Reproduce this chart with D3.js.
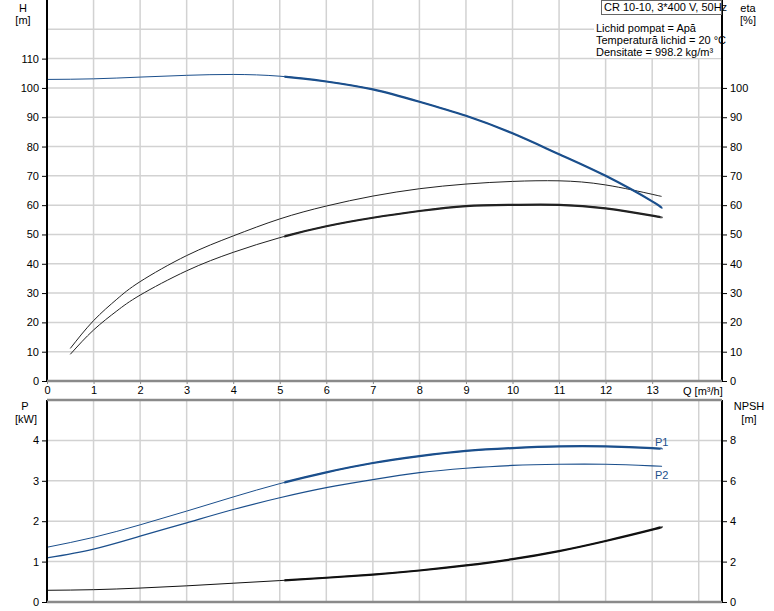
<!DOCTYPE html>
<html>
<head>
<meta charset="utf-8">
<script src="https://cdn.jsdelivr.net/npm/d3@7"></script>
<style>
  body { margin: 0; background: #fff; }
  svg text { font-family: "Liberation Sans", Arial, sans-serif; font-size: 11px; fill: #000; }
</style>
</head>
<body>
<div class="chart"></div>
<script>
// data
const qTicks = [0, 1, 2, 3, 4, 5, 6, 7, 8, 9, 10, 11, 12, 13];
const hTicks = [0, 10, 20, 30, 40, 50, 60, 70, 80, 90, 100, 110];
const etaTicks = [0, 10, 20, 30, 40, 50, 60, 70, 80, 90, 100];
const pTicks = [0, 1, 2, 3, 4];
const npshTicks = [0, 2, 4, 6, 8];

const qMain = [0, 1, 2, 3, 4, 5, 6, 7, 8, 9, 10, 11, 12, 13, 13.2];
const headH = [102.9, 103.1, 103.7, 104.3, 104.6, 104.0, 102.2, 99.5, 95.3, 90.5, 84.5, 77.4, 70.0, 61.3, 58.9];
const p1 = [1.355, 1.60, 1.91, 2.25, 2.60, 2.93, 3.21, 3.44, 3.61, 3.74, 3.81, 3.85, 3.85, 3.81, 3.79];
const p2 = [1.09, 1.31, 1.63, 1.96, 2.29, 2.58, 2.83, 3.03, 3.20, 3.31, 3.38, 3.41, 3.41, 3.37, 3.36];
const npsh = [0.58, 0.61, 0.69, 0.80, 0.93, 1.06, 1.20, 1.36, 1.56, 1.81, 2.12, 2.52, 3.02, 3.58, 3.72];

const qEta = [0.5, 1, 1.5, 2, 3, 4, 5, 6, 7, 8, 9, 10, 11, 12, 13, 13.2];
const etaTotal = [11.1, 20.6, 27.9, 33.9, 42.8, 49.5, 55.3, 59.7, 63.1, 65.6, 67.2, 68.1, 68.3, 66.9, 63.7, 63.0];
const etaPump = [9.1, 17.4, 23.9, 29.3, 37.6, 43.9, 48.9, 52.8, 55.7, 58.0, 59.7, 60.1, 60.1, 58.9, 56.4, 55.8];

const dutyStart = 5.1; // curves are drawn bold from here on

const infoTitle = "CR 10-10, 3*400 V, 50Hz";
const infoLines = ["Lichid pompat = Apă", "Temperatură lichid = 20 °C", "Densitate = 998.2 kg/m³"];

// layout
const W = 774, H = 611;
const left = 47, right = 722;
const top1 = 0, bottom1 = 381;
const top2 = 400, bottom2 = 602;

const blue = "#1b4f8c";
const grid = "#d2d2d2";

const svg = d3.select(".chart").append("svg")
    .attr("width", W).attr("height", H);

// scales
const x = d3.scaleLinear().domain([0, 14.5]).range([left, right]);
const yH = d3.scaleLinear().domain([0, 130]).range([bottom1, top1]);
const yP = d3.scaleLinear().domain([0, 5]).range([bottom2, top2]);
const yN = d3.scaleLinear().domain([0, 10]).range([bottom2, top2]);

// clip for the bold part of the curves
svg.append("clipPath").attr("id", "duty")
    .append("rect")
    .attr("x", x(dutyStart)).attr("y", 0)
    .attr("width", right - x(dutyStart)).attr("height", H);

// grid lines
function drawGrid(y, ticks, y0, y1) {
    const g = svg.append("g");
    g.selectAll(".vg").data(d3.range(1, 15)).enter().append("line")
        .attr("x1", d => x(d)).attr("x2", d => x(d))
        .attr("y1", y0).attr("y2", y1)
        .attr("stroke", grid).attr("stroke-width", 1.5);
    g.selectAll(".hg").data(ticks).enter().append("line")
        .attr("x1", left).attr("x2", right)
        .attr("y1", d => y(d)).attr("y2", d => y(d))
        .attr("stroke", grid).attr("stroke-width", 1.5);
}
drawGrid(yH, d3.range(10, 130, 10), top1, bottom1);
drawGrid(yP, [1, 2, 3, 4], top2, bottom2);

// curves
const line = (xs, ys, y) => d3.line()
    .x((d, i) => x(xs[i]))
    .y(d => y(d))
    .curve(d3.curveNatural)(ys);

function curve(xs, ys, y, color, thin, bold) {
    svg.append("path").attr("d", line(xs, ys, y))
        .attr("fill", "none").attr("stroke", color).attr("stroke-width", thin);
    if (bold) {
        svg.append("path").attr("d", line(xs, ys, y))
            .attr("clip-path", "url(#duty)")
            .attr("fill", "none").attr("stroke", color).attr("stroke-width", bold);
    }
}

curve(qEta, etaTotal, yH, "#222", 1, null);
curve(qEta, etaPump, yH, "#222", 1, 2.2);
curve(qMain, headH, yH, blue, 1, 2.2);
curve(qMain, p2, yP, blue, 1.2, null);
curve(qMain, p1, yP, blue, 1, 2.2);
curve(qMain, npsh, yN, "#111", 1, 2.2);

// axes
function sideAxis(axis, y0, y1, xPos) {
    const g = svg.append("g")
        .attr("transform", `translate(${xPos},0)`)
        .call(axis.tickFormat(d3.format("d")));
    g.select(".domain").remove();
    g.selectAll(".tick line").attr("stroke", "#000");
    g.append("line").attr("x1", 0).attr("x2", 0)
        .attr("y1", y0).attr("y2", y1)
        .attr("stroke", "#000").attr("stroke-width", 2);
    return g;
}
sideAxis(d3.axisLeft(yH).tickValues(hTicks).tickSize(5).tickPadding(3), top1, bottom1 + 1, left);
sideAxis(d3.axisRight(yH).tickValues(etaTicks).tickSize(5).tickPadding(3), top1, bottom1 + 1, right);
sideAxis(d3.axisLeft(yP).tickValues(pTicks).tickSize(5).tickPadding(3), top2, bottom2, left);
sideAxis(d3.axisRight(yN).tickValues(npshTicks).tickSize(5).tickPadding(3), top2, bottom2, right);

// horizontal frame lines
[bottom1, top2, bottom2].forEach(yy => {
    svg.append("line").attr("x1", left).attr("x2", right)
        .attr("y1", yy).attr("y2", yy)
        .attr("stroke", "#8a8a8a").attr("stroke-width", 2.5);
});

// x axis under top panel
const xa = svg.append("g")
    .attr("transform", `translate(0,${bottom1})`)
    .call(d3.axisBottom(x).tickValues(qTicks).tickSize(3).tickPadding(2));
xa.select(".domain").remove();
xa.selectAll(".tick line").attr("stroke", "#8a8a8a");
svg.append("text").attr("x", 683).attr("y", 395).text("Q [m³/h]");

// unit labels
const unit = (t, xx, yy) => svg.append("text")
    .attr("x", xx).attr("y", yy).attr("text-anchor", "middle").text(t);
unit("H", 23, 12); unit("[m]", 23, 24);
unit("eta", 748, 12); unit("[%]", 748, 24);
unit("P", 25, 410); unit("[kW]", 26, 423);
unit("NPSH", 749, 410); unit("[m]", 749, 423);

svg.append("text").attr("x", 655).attr("y", 446).style("fill", blue).text("P1");
svg.append("text").attr("x", 655).attr("y", 479).style("fill", blue).text("P2");

// info box
svg.append("rect").attr("x", 594).attr("y", 15).attr("width", 127).attr("height", 43)
    .attr("fill", "#fff");
svg.append("rect").attr("x", 601.5).attr("y", 0.5).attr("width", 120).attr("height", 14)
    .attr("fill", "#fff").attr("stroke", "#666");
svg.append("text").attr("x", 604).attr("y", 11).text(infoTitle);
svg.selectAll(".info").data(infoLines).enter().append("text")
    .attr("x", 596).attr("y", (d, i) => 32 + i * 12).text(d => d);
</script>
</body>
</html>
